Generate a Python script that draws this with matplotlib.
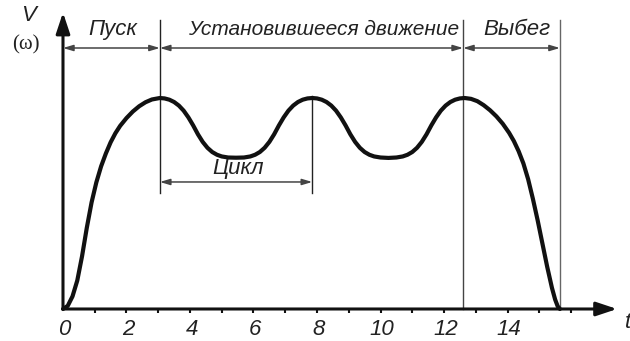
import matplotlib.pyplot as plt
import numpy as np

# speed curve: start-up, two working cycles, run-down
t_pts = [0.00, 0.15, 0.30, 0.45, 0.60, 0.75, 0.90, 1.05, 1.20, 1.35, 1.50, 1.65,
         1.80, 2.00, 2.20, 2.40, 2.60, 2.80, 3.05,
         3.20, 3.35, 3.50, 3.65, 3.80, 3.95, 4.10, 4.25, 4.40, 4.55, 4.70, 4.85,
         5.00, 5.20, 5.45, 5.70, 5.90, 6.05, 6.20, 6.35, 6.50, 6.65, 6.80, 6.95,
         7.10, 7.25, 7.40, 7.55, 7.70, 7.85,
         8.00, 8.15, 8.30, 8.45, 8.60, 8.75, 8.90, 9.05, 9.20, 9.35, 9.50, 9.65,
         9.80, 10.00, 10.25, 10.50, 10.70, 10.85, 11.00, 11.15, 11.30, 11.45, 11.60, 11.75,
         11.90, 12.05, 12.20, 12.35, 12.50, 12.65,
         12.85, 13.05, 13.25, 13.45, 13.65, 13.85, 14.05, 14.20, 14.35, 14.50, 14.65,
         14.80, 14.95, 15.10, 15.25, 15.40, 15.50, 15.58, 15.65]
v_pts = [0.000, 0.015, 0.060, 0.135, 0.250, 0.385, 0.505, 0.600, 0.676, 0.737, 0.790, 0.833,
         0.868, 0.905, 0.936, 0.961, 0.980, 0.993, 1.000,
         0.998, 0.992, 0.981, 0.964, 0.940, 0.908, 0.870, 0.828, 0.792, 0.764, 0.744, 0.731,
         0.723, 0.718, 0.717, 0.718, 0.723, 0.731, 0.744, 0.764, 0.792, 0.828, 0.870, 0.908,
         0.940, 0.964, 0.981, 0.992, 0.998, 1.000,
         0.998, 0.992, 0.981, 0.964, 0.940, 0.908, 0.870, 0.828, 0.792, 0.764, 0.744, 0.731,
         0.723, 0.718, 0.716, 0.718, 0.723, 0.731, 0.744, 0.764, 0.792, 0.828, 0.870, 0.908,
         0.940, 0.964, 0.981, 0.992, 0.998, 1.000,
         0.996, 0.985, 0.966, 0.942, 0.913, 0.878, 0.835, 0.796, 0.748, 0.690, 0.615,
         0.522, 0.420, 0.310, 0.200, 0.100, 0.045, 0.013, 0.000]

tick_pos = list(range(1, 17))
tick_labels = ['0', '2', '4', '6', '8', '10', '12', '14']
tick_label_pos = [0, 2, 4, 6, 8, 10, 12, 14]

# phase boundaries
t_start_end = 3.05
t_cycle_end = 7.85
t_run_end = 12.6
t_stop = 15.65

phase_names = ['Пуск', 'Установившееся движение', 'Выбег']
phase_label_x = [1.57, 8.22, 14.3]
phase_label_size = [16, 15, 16]

fig = plt.figure(figsize=(6.3, 3.41), dpi=100)
ax = fig.add_axes([0, 0, 1, 1])
ax.set_xlim(-1.984, 17.858)
ax.set_ylim(-0.1517, 1.4645)
ax.axis('off')

sans = 'Liberation Sans'
fs = 16

# axes with arrows
ax.annotate('', xy=(17.45, 0), xytext=(0, 0),
            arrowprops=dict(arrowstyle='-|>,head_length=0.9,head_width=0.3',
                            lw=2.2, color='#111', shrinkA=0, shrinkB=0, mutation_scale=14))
ax.annotate('', xy=(0, 1.405), xytext=(0, 0),
            arrowprops=dict(arrowstyle='-|>,head_length=0.9,head_width=0.3',
                            lw=2.2, color='#111', shrinkA=0, shrinkB=0, mutation_scale=14))

for tp in tick_pos:
    ax.plot([tp, tp], [0, -0.018], color='#111', lw=1.5, solid_capstyle='butt')
for tp, lab in zip(tick_label_pos, tick_labels):
    ax.text(tp + 0.05, -0.097, lab, ha='center', va='center', fontsize=fs,
            family=sans, style='italic', color='#222')

ax.text(17.80, -0.066, 't', ha='center', va='center', fontsize=fs,
        family=sans, style='italic', color='#222')
ax.text(-1.10, 1.393, 'V', ha='center', va='center', fontsize=fs,
        family=sans, style='italic', color='#222')
ax.text(-1.17, 1.251, '(ω)', ha='center', va='center', fontsize=15,
        family='Liberation Serif', color='#222')

# boundary lines
ax.plot([t_start_end, t_start_end], [1.37, 0.55], color='#222', lw=1)
ax.plot([t_cycle_end, t_cycle_end], [1.01, 0.55], color='#222', lw=1)
ax.plot([t_run_end, t_run_end], [1.37, 0], color='#444', lw=1)
ax.plot([t_stop, t_stop], [1.37, 0], color='#666', lw=1)

dim = dict(arrowstyle='<|-|>,head_length=0.6,head_width=0.18', lw=1.1,
           color='#444', shrinkA=0, shrinkB=0, mutation_scale=10)
y_dim = 1.237
for a, b in [(0, t_start_end), (t_start_end, t_run_end), (t_run_end, t_stop)]:
    ax.annotate('', xy=(b, y_dim), xytext=(a, y_dim), arrowprops=dim)
for x, name, size in zip(phase_label_x, phase_names, phase_label_size):
    ax.text(x, 1.327, name, ha='center', va='center', fontsize=size,
            family=sans, style='italic', color='#222')

ax.annotate('', xy=(t_cycle_end, 0.602), xytext=(t_start_end, 0.602), arrowprops=dim)
ax.text(5.51, 0.668, 'Цикл', ha='center', va='center', fontsize=fs,
        family=sans, style='italic', color='#222')

ax.plot(t_pts, v_pts, color='#111', lw=3, solid_joinstyle='round', solid_capstyle='round')

fig.savefig('out.png', dpi=100)
